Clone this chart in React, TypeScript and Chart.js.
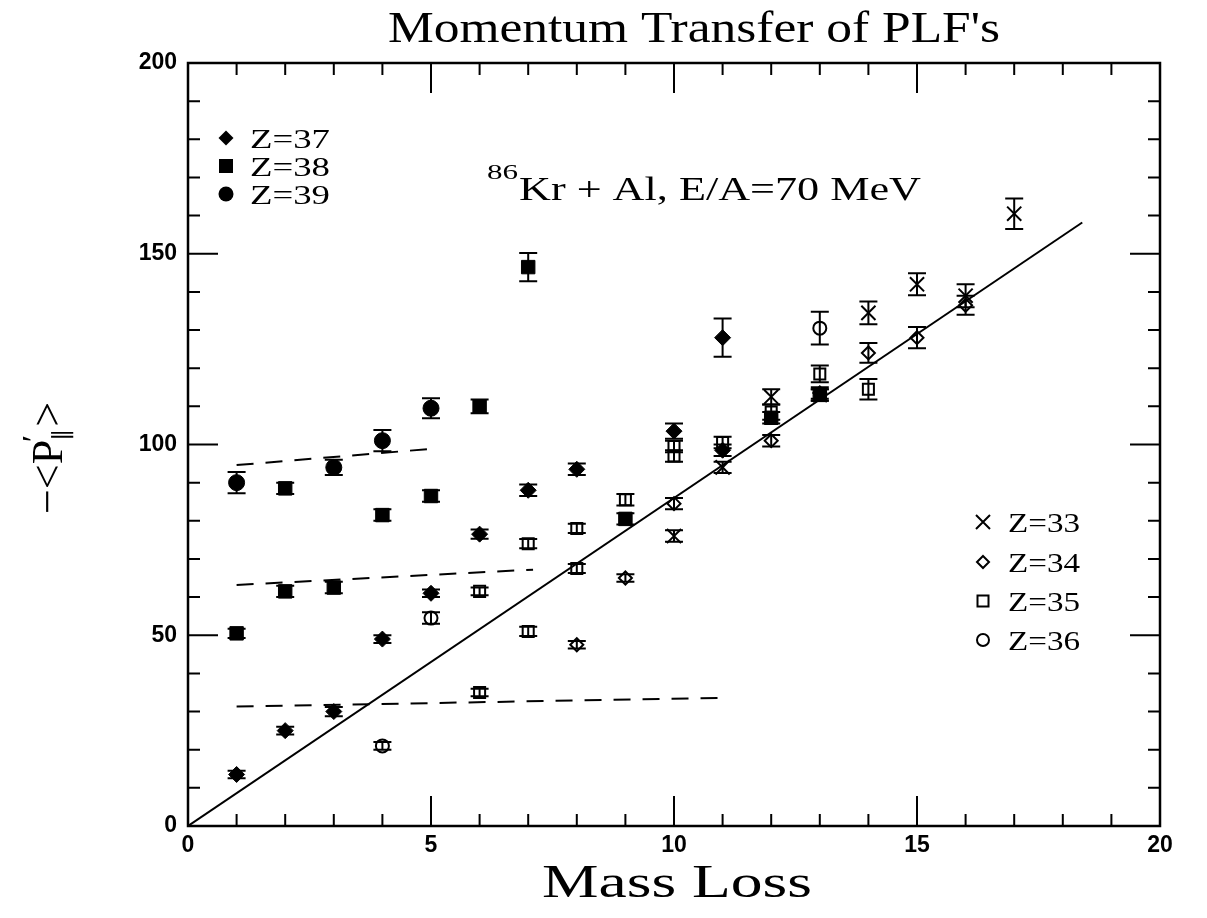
import React, { useEffect, useRef } from 'react';
import { Chart, registerables } from 'chart.js';
Chart.register(...registerables);

const W = 1207;
const H = 918;

const xMin = 0;
const xMax = 20;
const yMin = 0;
const yMax = 200;

const titleText = "Momentum Transfer of PLF's";
const xAxisTitle = 'Mass Loss';
const reactionSup = '86';
const reactionText = 'Kr + Al, E/A=70 MeV';

// Z=33 (x)
const z33X = [10, 11, 12, 13, 14, 15, 16, 17];
const z33Y = [76, 94, 112.5, 113, 134.5, 142, 139, 160.5];
const z33E = [1.5, 1.5, 2, 1.5, 3, 2.9, 3, 4];
// Z=34 (open diamond)
const z34X = [8, 9, 10, 12, 13, 14, 15, 16];
const z34Y = [47.5, 65, 84.5, 101, 113.5, 124, 128, 136.5];
const z34E = [1, 1, 1.5, 1.5, 1.5, 2.6, 2.8, 2.5];
// Z=35 (open square)
const z35X = [6, 6, 7, 7, 8, 8, 9, 10, 10, 11, 12, 13, 14];
const z35Y = [35, 61.5, 51, 74, 67.5, 78, 85.5, 99.5, 97, 100.5, 108.5, 118.5, 114.5];
const z35E = [1, 1, 1.2, 1.2, 1.2, 1.2, 1.5, 1.5, 1.5, 1.5, 2, 2.2, 2.7];
// Z=36 (open circle)
const z36X = [4, 5, 13];
const z36Y = [21, 54.5, 130.5];
const z36E = [1, 1.5, 4.3];
// Z=37 (filled diamond)
const z37X = [1, 2, 3, 4, 5, 6, 7, 8, 10, 11, 11];
const z37Y = [13.5, 25, 30, 49, 61, 76.5, 88, 93.5, 103.5, 128, 98.5];
const z37E = [1, 1, 1.2, 1, 1, 1.2, 1.5, 1.5, 2, 5, 1.5];
// Z=38 (filled square)
const z38X = [1, 2, 2, 3, 4, 5, 6, 7, 9, 12, 13];
const z38Y = [50.5, 61.5, 88.5, 62.5, 81.5, 86.5, 110, 146.5, 80.5, 107, 113];
const z38E = [1.2, 1.5, 1.5, 1.5, 1.5, 1.5, 1.8, 3.7, 1.5, 1.5, 1.5];
// Z=39 (filled circle)
const z39X = [1, 3, 4, 5];
const z39Y = [90, 94, 101, 109.5];
const z39E = [2.8, 2, 2.8, 2.6];

// fit / guide lines
const fitX = [0, 18.4];
const fitY = [0, 158.2];
const dashLowX = [1, 11];
const dashLowY = [31.3, 33.6];
const dashMidX = [1, 7.1];
const dashMidY = [63.2, 67.2];
const dashTopX = [1, 4.95];
const dashTopY = [94.6, 98.8];

const leftLegend = ['Z=37', 'Z=38', 'Z=39'];
const rightLegend = ['Z=33', 'Z=34', 'Z=35', 'Z=36'];

const pts = (xs: number[], ys: number[]) => xs.map((x, i) => ({ x, y: ys[i] }));

const SERIF = '"Liberation Serif", "DejaVu Serif", serif';

function fitText(ctx: CanvasRenderingContext2D, text: string, x: number, y: number, font: string, width: number, align: 'left' | 'center' = 'left') {
  ctx.save();
  ctx.font = font;
  ctx.textAlign = 'left';
  ctx.textBaseline = 'alphabetic';
  const m = ctx.measureText(text).width;
  const s = width / m;
  ctx.translate(x, y);
  ctx.scale(s, 1);
  ctx.fillText(text, align === 'center' ? -m / 2 : 0, 0);
  ctx.restore();
}

function drawMarker(ctx: CanvasRenderingContext2D, kind: string, x: number, y: number) {
  ctx.save();
  ctx.strokeStyle = '#000';
  ctx.fillStyle = '#000';
  ctx.lineWidth = 2;
  ctx.beginPath();
  if (kind === 'fdiamond' || kind === 'odiamond') {
    const r = kind === 'fdiamond' ? 7.5 : 6;
    ctx.moveTo(x, y - r); ctx.lineTo(x + r, y); ctx.lineTo(x, y + r); ctx.lineTo(x - r, y); ctx.closePath();
  } else if (kind === 'fsquare' || kind === 'osquare') {
    const r = kind === 'fsquare' ? 7 : 5.5;
    ctx.rect(x - r, y - r, 2 * r, 2 * r);
  } else if (kind === 'fcircle' || kind === 'ocircle') {
    const r = kind === 'fcircle' ? 7.5 : 6;
    ctx.arc(x, y, r, 0, Math.PI * 2);
  } else if (kind === 'cross') {
    const r = 7;
    ctx.moveTo(x - r, y - r); ctx.lineTo(x + r, y + r);
    ctx.moveTo(x - r, y + r); ctx.lineTo(x + r, y - r);
  }
  if (kind.startsWith('f')) ctx.fill(); else ctx.stroke();
  ctx.restore();
}

const decorPlugin = {
  id: 'decor',
  afterDatasetsDraw(chart: any) {
    const ctx: CanvasRenderingContext2D = chart.ctx;
    const ys = chart.scales.y;
    chart.data.datasets.forEach((ds: any, di: number) => {
      if (!ds.errors) return;
      const meta = chart.getDatasetMeta(di);
      meta.data.forEach((el: any, i: number) => {
        const v = ds.data[i].y;
        const e = ds.errors[i];
        const px = el.x;
        const top = ys.getPixelForValue(v + e);
        const bot = ys.getPixelForValue(v - e);
        ctx.save();
        ctx.strokeStyle = '#000';
        ctx.lineWidth = 2;
        ctx.beginPath();
        ctx.moveTo(px, top); ctx.lineTo(px, bot);
        ctx.moveTo(px - 9, top); ctx.lineTo(px + 9, top);
        ctx.moveTo(px - 9, bot); ctx.lineTo(px + 9, bot);
        ctx.stroke();
        ctx.restore();
      });
    });
  },
  afterDraw(chart: any) {
    const ctx: CanvasRenderingContext2D = chart.ctx;
    const { left, right, top, bottom } = chart.chartArea;
    const xs = chart.scales.x;
    const ys = chart.scales.y;
    ctx.save();
    ctx.strokeStyle = '#000';
    ctx.lineWidth = 2.5;
    ctx.strokeRect(left, top, right - left, bottom - top);
    ctx.lineWidth = 2;
    ctx.beginPath();
    for (let v = xMin; v <= xMax; v += 1) {
      const p = xs.getPixelForValue(v);
      const len = v % 5 === 0 ? 30 : 12;
      ctx.moveTo(p, bottom); ctx.lineTo(p, bottom - len);
      ctx.moveTo(p, top); ctx.lineTo(p, top + len);
    }
    for (let v = yMin; v <= yMax; v += 10) {
      const p = ys.getPixelForValue(v);
      const len = v % 50 === 0 ? 30 : 12;
      ctx.moveTo(left, p); ctx.lineTo(left + len, p);
      ctx.moveTo(right, p); ctx.lineTo(right - len, p);
    }
    ctx.stroke();
    ctx.restore();

    ctx.save();
    ctx.fillStyle = '#000';
    fitText(ctx, titleText, 694, 42, `44px ${SERIF}`, 612, 'center');
    fitText(ctx, xAxisTitle, 677, 897, `46px ${SERIF}`, 270, 'center');
    fitText(ctx, reactionSup, 487, 179, `22px ${SERIF}`, 31);
    fitText(ctx, reactionText, 519, 200, `34px ${SERIF}`, 402);

    const lk = ['fdiamond', 'fsquare', 'fcircle'];
    const lrows = [138, 166, 194];
    leftLegend.forEach((t, i) => {
      drawMarker(ctx, lk[i], 226, lrows[i]);
      fitText(ctx, t, 250, lrows[i] + 10, `28px ${SERIF}`, 80);
    });
    const rk = ['cross', 'odiamond', 'osquare', 'ocircle'];
    const rrows = [522, 562, 601, 640];
    rightLegend.forEach((t, i) => {
      drawMarker(ctx, rk[i], 983, rrows[i]);
      fitText(ctx, t, 1008, rrows[i] + 10, `28px ${SERIF}`, 72);
    });

    // y axis label: −<P′∥>
    ctx.translate(62, 452);
    ctx.rotate(-Math.PI / 2);
    ctx.textBaseline = 'alphabetic';
    ctx.textAlign = 'left';
    let cx = -62;
    ctx.font = `44px ${SERIF}`;
    ctx.fillText('\u2212<P', cx, 0);
    cx += ctx.measureText('\u2212<P').width;
    ctx.font = `32px ${SERIF}`;
    ctx.fillText('\u2032', cx - 2, -18);
    ctx.font = `24px ${SERIF}`;
    ctx.fillText('\u2225', cx, 9);
    cx += ctx.measureText('\u2225').width + 2;
    ctx.font = `44px ${SERIF}`;
    ctx.fillText('>', cx, 0);
    ctx.restore();
  },
};

export default function App() {
  const ref = useRef<HTMLCanvasElement>(null);
  useEffect(() => {
    if (!ref.current) return;
    const filled = (label: string, xs: number[], ys: number[], es: number[], style: string, r: number) => ({
      label, data: pts(xs, ys), errors: es, pointStyle: style, pointRadius: r,
      backgroundColor: '#000', borderColor: '#000', borderWidth: 1, showLine: false,
    });
    const open = (label: string, xs: number[], ys: number[], es: number[], style: string, r: number) => ({
      label, data: pts(xs, ys), errors: es, pointStyle: style, pointRadius: r,
      backgroundColor: 'rgba(0,0,0,0)', borderColor: '#000', borderWidth: 2, showLine: false,
    });
    const line = (label: string, xs: number[], ys: number[], dash: number[]) => ({
      label, data: pts(xs, ys), showLine: true, pointRadius: 0, borderColor: '#000',
      borderWidth: 2, borderDash: dash, fill: false,
    });
    const chart = new Chart(ref.current, {
      type: 'scatter',
      data: {
        datasets: [
          line('fit', fitX, fitY, []),
          line('dashLow', dashLowX, dashLowY, [17, 12]),
          line('dashMid', dashMidX, dashMidY, [17, 12]),
          line('dashTop', dashTopX, dashTopY, [17, 12]),
          open('Z=33', z33X, z33Y, z33E, 'crossRot', 10),
          open('Z=34', z34X, z34Y, z34E, 'rectRot', 6.5),
          open('Z=35', z35X, z35Y, z35E, 'rect', 7.8),
          open('Z=36', z36X, z36Y, z36E, 'circle', 6.5),
          filled('Z=37', z37X, z37Y, z37E, 'rectRot', 8),
          filled('Z=38', z38X, z38Y, z38E, 'rect', 9.5),
          filled('Z=39', z39X, z39Y, z39E, 'circle', 8),
        ] as any,
      },
      options: {
        responsive: false,
        animation: false,
        devicePixelRatio: 1,
        layout: { padding: { left: 0, top: 63, right: 47, bottom: 0 } },
        plugins: { legend: { display: false }, tooltip: { enabled: false }, title: { display: false } },
        scales: {
          x: {
            type: 'linear', min: xMin, max: xMax,
            ticks: { stepSize: 5, color: '#000', padding: 6, maxRotation: 0, font: { family: 'Liberation Sans', size: 23, weight: 'bold' } },
            grid: { display: false, drawTicks: false },
            border: { display: false },
            afterFit: (s: any) => { s.height = 92; },
          },
          y: {
            type: 'linear', min: yMin, max: yMax,
            ticks: { stepSize: 50, color: '#000', padding: 11, font: { family: 'Liberation Sans', size: 23, weight: 'bold' } },
            grid: { display: false, drawTicks: false },
            border: { display: false },
            afterFit: (s: any) => { s.width = 188; },
          },
        },
      } as any,
      plugins: [decorPlugin],
    });
    return () => chart.destroy();
  }, []);
  return (
    <div style={{ position: 'fixed', left: 0, top: 0, width: W, height: H, background: '#fff' }}>
      <canvas ref={ref} width={W} height={H} />
    </div>
  );
}
